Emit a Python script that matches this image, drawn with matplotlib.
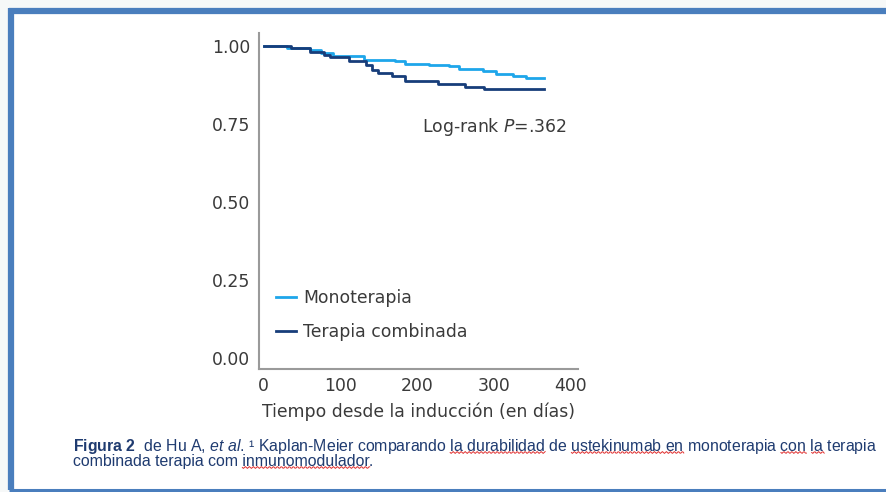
import matplotlib
matplotlib.use("Agg")
import matplotlib.pyplot as plt
import numpy as np
from matplotlib.lines import Line2D
from matplotlib.patches import Rectangle

# Kaplan-Meier survival steps (days since induction, survival probability)
mono_days = [0, 30, 60, 75, 90, 131, 172, 185, 216, 242, 255, 286, 303, 325, 342, 366]
mono_surv = [1.000, 0.994, 0.986, 0.979, 0.968, 0.957, 0.951, 0.943, 0.938, 0.935,
             0.927, 0.920, 0.909, 0.904, 0.897, 0.897]

combo_days = [0, 36, 60, 79, 86, 112, 134, 142, 149, 168, 184, 227, 262, 288, 366]
combo_surv = [1.000, 0.994, 0.981, 0.970, 0.964, 0.951, 0.938, 0.925, 0.915, 0.904,
              0.887, 0.877, 0.870, 0.861, 0.861]

series_labels = ["Monoterapia", "Terapia combinada"]
x_ticks = [0, 100, 200, 300, 400]
y_ticks = [0.00, 0.25, 0.50, 0.75, 1.00]
x_label = "Tiempo desde la inducción (en días)"

# caption lines (mathtext for the bold / italic parts) and the words marked by the spell-checker,
# each given as (text ending with the word, word)
caption_line1 = r"$\mathbf{Figura\ 2}$  de Hu A, $\mathit{et\ al}$. ¹ Kaplan-Meier comparando la durabilidad de ustekinumab en monoterapia con la terapia"
caption_line2 = "combinada terapia com inmunomodulador."
flagged_line1 = [("comparando la durabilidad", "la durabilidad"),
                 ("ustekinumab en", "ustekinumab en"),
                 ("monoterapia con", "con"),
                 ("monoterapia con la", "la")]
flagged_line2 = [("inmunomodulador", "inmunomodulador")]

plt.rcParams["font.family"] = ["DejaVu Sans"]

C_MONO = "#1ea6ea"
C_COMBO = "#173d7a"
C_TEXT = "#3a3a3a"
C_AXIS = "#9a9a9a"
C_FRAME = "#4a7ebd"
C_CAPTION = "#1f3b70"
FS = 12.4

W, H = 887, 492
fig = plt.figure(figsize=(W / 100, H / 100), dpi=100, facecolor="#f6f8f8")

# white panel with blue frame
fig.patches.append(Rectangle((12 / W, 0), 1, 1 - 10 / H, transform=fig.transFigure,
                             facecolor="white", edgecolor="none", zorder=-5))
fig.add_artist(Line2D([11.5 / W, 11.5 / W], [1 - 8 / H, 2 / H], transform=fig.transFigure,
                      color=C_FRAME, lw=4.5, solid_capstyle="butt"))
fig.add_artist(Line2D([9 / W, 1.0], [1 - 10.5 / H, 1 - 10.5 / H], transform=fig.transFigure,
                      color=C_FRAME, lw=4.5, solid_capstyle="butt"))
fig.add_artist(Line2D([9 / W, 1.0], [2.5 / H, 2.5 / H], transform=fig.transFigure,
                      color=C_FRAME, lw=2.2, solid_capstyle="butt"))

ax = fig.add_axes([259 / W, 1 - 369 / H, (578 - 259) / W, (369 - 33) / H])
ax.set_facecolor("none")
ax.set_zorder(5)

ax.step(mono_days, mono_surv, where="post", color=C_MONO, lw=2.0, label=series_labels[0])
ax.step(combo_days, combo_surv, where="post", color=C_COMBO, lw=2.0, label=series_labels[1])

ax.set_xlim(-6, 410)
ax.set_ylim(-0.035, 1.042)
ax.set_xticks(x_ticks)
ax.set_xticklabels([str(v) for v in x_ticks])
ax.set_yticks(y_ticks)
ax.set_yticklabels([f"{v:.2f}" for v in y_ticks])
ax.tick_params(length=0, labelsize=FS, colors=C_TEXT)
ax.tick_params(axis="y", pad=6.5)
ax.tick_params(axis="x", pad=6)
for s in ["top", "right"]:
    ax.spines[s].set_visible(False)
for s in ["left", "bottom"]:
    ax.spines[s].set_color(C_AXIS)
    ax.spines[s].set_linewidth(1.5)
ax.set_xlabel(x_label, fontsize=FS, color=C_TEXT, labelpad=5)

ax.text(396, 0.74, r"Log-rank $\mathit{P}$=.362", ha="right", va="center",
        fontsize=FS, color=C_TEXT)

leg = ax.legend(loc="center left", bbox_to_anchor=(0.053, 0.161), frameon=False,
                fontsize=FS, handlelength=1.15, handletextpad=0.45, labelspacing=0.9,
                borderpad=0, borderaxespad=0)
for t in leg.get_texts():
    t.set_color(C_TEXT)

# ---- caption -------------------------------------------------------------
cap_font = "Liberation Sans"
plt.rcParams["mathtext.fontset"] = "custom"
plt.rcParams["mathtext.rm"] = cap_font
plt.rcParams["mathtext.bf"] = cap_font + ":bold"
plt.rcParams["mathtext.it"] = cap_font + ":italic"

renderer = fig.canvas.get_renderer()


def width_px(s, size):
    t = fig.text(0, 0, s, fontsize=size, family=cap_font)
    w = t.get_window_extent(renderer).width
    t.remove()
    return w


base = 10.0
cap_size = base * (875 - 73) / width_px(caption_line1, base)

x0_px, top_px = 73, 437.5
fig.text(x0_px / W, 1 - top_px / H, caption_line1 + "\n" + caption_line2,
         fontsize=cap_size, family=cap_font, color=C_CAPTION,
         ha="left", va="top", linespacing=0.81)


def squiggle(line, marks, base_y):
    for anchor, word in marks:
        end = line.index(anchor) + len(anchor)
        x_end = x0_px + width_px(line[:end], cap_size)
        x_start = x_end - width_px(word, cap_size)
        xs = np.linspace(x_start, x_end, max(int(x_end - x_start), 2))
        ys = base_y + 0.9 * np.sin((xs - xs[0]) * np.pi / 2.0)
        fig.add_artist(Line2D(xs / W, 1 - ys / H, transform=fig.transFigure,
                              color="#e03030", lw=0.7))


squiggle(caption_line1, flagged_line1, 452.5)
squiggle(caption_line2, flagged_line2, 467.5)

fig.savefig("out.png", dpi=100, facecolor=fig.get_facecolor())
